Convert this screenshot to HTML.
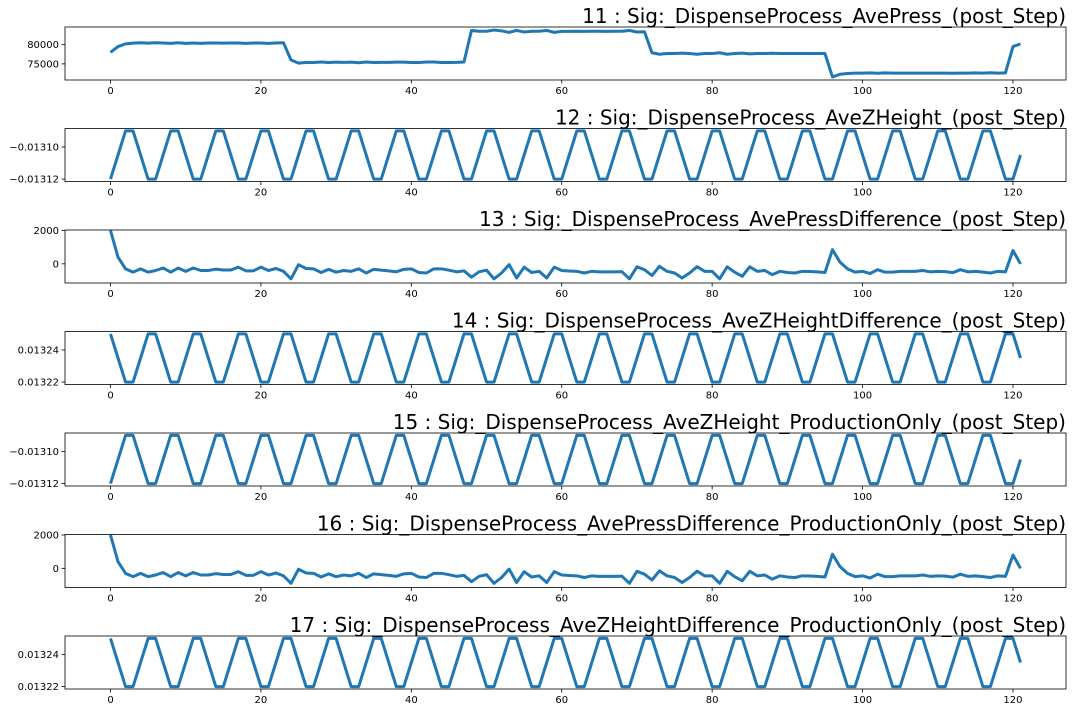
<!DOCTYPE html>
<html><head><meta charset="utf-8"><style>
html,body{margin:0;padding:0;background:#fff;}
svg{display:block;font-family:"DejaVu Sans","Liberation Sans",sans-serif;}
</style></head><body>
<svg id="chart" width="1072" height="712" viewBox="0 0 1072 712"></svg>
<script>
const xTicks = [0, 20, 40, 60, 80, 100, 120];
const titles = [
 "11 : Sig:_DispenseProcess_AvePress_(post_Step)",
 "12 : Sig:_DispenseProcess_AveZHeight_(post_Step)",
 "13 : Sig:_DispenseProcess_AvePressDifference_(post_Step)",
 "14 : Sig:_DispenseProcess_AveZHeightDifference_(post_Step)",
 "15 : Sig:_DispenseProcess_AveZHeight_ProductionOnly_(post_Step)",
 "16 : Sig:_DispenseProcess_AvePressDifference_ProductionOnly_(post_Step)",
 "17 : Sig:_DispenseProcess_AveZHeightDifference_ProductionOnly_(post_Step)"
];
const avePress = [78000,79500,80200,80400,80500,80400,80500,80450,80350,80500,80350,80450,80350,80450,80450,80400,80450,80450,80350,80450,80450,80350,80450,80500,
76000,75200,75350,75350,75500,75350,75450,75400,75450,75300,75500,75350,75400,75400,75450,75450,75350,75350,75500,75500,75350,75350,75400,75500,
83700,83500,83500,83800,83600,83200,83700,83300,83500,83500,83700,83200,83450,83450,83500,83450,83500,83500,83450,83500,83500,83700,83300,83350,
77900,77500,77700,77700,77800,77700,77500,77700,77700,77900,77500,77700,77800,77600,77700,77700,77750,77700,77700,77700,77700,77700,77700,77700,
71600,72300,72500,72600,72600,72650,72550,72650,72600,72600,72600,72600,72600,72600,72600,72600,72550,72600,72600,72650,72600,72700,72600,72650,79500,80200];
const zHeight = [-0.01312,-0.013105,-0.01309,-0.01309,-0.013105,-0.01312,-0.01312,-0.013105,-0.01309,-0.01309,-0.013105,-0.01312,-0.01312,-0.013105,-0.01309,-0.01309,-0.013105,-0.01312,-0.01312,-0.013105,-0.01309,-0.01309,-0.013105,-0.01312,-0.01312,-0.013105,-0.01309,-0.01309,-0.013105,-0.01312,-0.01312,-0.013105,-0.01309,-0.01309,-0.013105,-0.01312,-0.01312,-0.013105,-0.01309,-0.01309,-0.013105,-0.01312,-0.01312,-0.013105,-0.01309,-0.01309,-0.013105,-0.01312,-0.01312,-0.013105,-0.01309,-0.01309,-0.013105,-0.01312,-0.01312,-0.013105,-0.01309,-0.01309,-0.013105,-0.01312,-0.01312,-0.013105,-0.01309,-0.01309,-0.013105,-0.01312,-0.01312,-0.013105,-0.01309,-0.01309,-0.013105,-0.01312,-0.01312,-0.013105,-0.01309,-0.01309,-0.013105,-0.01312,-0.01312,-0.013105,-0.01309,-0.01309,-0.013105,-0.01312,-0.01312,-0.013105,-0.01309,-0.01309,-0.013105,-0.01312,-0.01312,-0.013105,-0.01309,-0.01309,-0.013105,-0.01312,-0.01312,-0.013105,-0.01309,-0.01309,-0.013105,-0.01312,-0.01312,-0.013105,-0.01309,-0.01309,-0.013105,-0.01312,-0.01312,-0.013105,-0.01309,-0.01309,-0.013105,-0.01312,-0.01312,-0.013105,-0.01309,-0.01309,-0.013105,-0.01312,-0.01312,-0.013105];
const pressDiff = [2000,400,-300,-500,-300,-500,-400,-250,-500,-250,-450,-250,-400,-400,-320,-370,-370,-200,-420,-420,-200,-400,-280,-450,-900,-50,-280,-300,-520,-330,-500,-400,-450,-300,-550,-330,-380,-420,-480,-330,-300,-520,-550,-300,-300,-380,-480,-420,-800,-480,-380,-900,-550,-50,-850,-200,-520,-450,-850,-200,-400,-430,-450,-550,-450,-480,-480,-480,-470,-900,-180,-350,-700,-150,-450,-550,-850,-550,-170,-450,-450,-900,-180,-500,-750,-180,-450,-400,-650,-450,-520,-550,-450,-460,-480,-520,850,100,-300,-500,-450,-580,-350,-500,-500,-450,-450,-450,-400,-480,-450,-470,-530,-350,-480,-450,-500,-550,-450,-480,800,0];
const zDiff = [0.01325,0.013235,0.01322,0.01322,0.013235,0.01325,0.01325,0.013235,0.01322,0.01322,0.013235,0.01325,0.01325,0.013235,0.01322,0.01322,0.013235,0.01325,0.01325,0.013235,0.01322,0.01322,0.013235,0.01325,0.01325,0.013235,0.01322,0.01322,0.013235,0.01325,0.01325,0.013235,0.01322,0.01322,0.013235,0.01325,0.01325,0.013235,0.01322,0.01322,0.013235,0.01325,0.01325,0.013235,0.01322,0.01322,0.013235,0.01325,0.01325,0.013235,0.01322,0.01322,0.013235,0.01325,0.01325,0.013235,0.01322,0.01322,0.013235,0.01325,0.01325,0.013235,0.01322,0.01322,0.013235,0.01325,0.01325,0.013235,0.01322,0.01322,0.013235,0.01325,0.01325,0.013235,0.01322,0.01322,0.013235,0.01325,0.01325,0.013235,0.01322,0.01322,0.013235,0.01325,0.01325,0.013235,0.01322,0.01322,0.013235,0.01325,0.01325,0.013235,0.01322,0.01322,0.013235,0.01325,0.01325,0.013235,0.01322,0.01322,0.013235,0.01325,0.01325,0.013235,0.01322,0.01322,0.013235,0.01325,0.01325,0.013235,0.01322,0.01322,0.013235,0.01325,0.01325,0.013235,0.01322,0.01322,0.013235,0.01325,0.01325,0.013235];
const pressTicks = [75000, 80000];
const pressTickLabels = ["75000", "80000"];
const zTicks = [-0.01312, -0.01310];
const zTickLabels = ["\u22120.01312", "\u22120.01310"];
const diffTicks = [0, 2000];
const diffTickLabels = ["0", "2000"];
const zdTicks = [0.01322, 0.01324];
const zdTickLabels = ["0.01322", "0.01324"];

const panels = [
 {d: avePress, dom: [70800, 84600], t: pressTicks, tl: pressTickLabels},
 {d: zHeight, dom: [-0.0131215, -0.0130885], t: zTicks, tl: zTickLabels},
 {d: pressDiff, dom: [-1150, 2030], t: diffTicks, tl: diffTickLabels},
 {d: zDiff, dom: [0.0132185, 0.0132515], t: zdTicks, tl: zdTickLabels},
 {d: zHeight, dom: [-0.0131215, -0.0130885], t: zTicks, tl: zTickLabels},
 {d: pressDiff, dom: [-1150, 2030], t: diffTicks, tl: diffTickLabels},
 {d: zDiff, dom: [0.0132185, 0.0132515], t: zdTicks, tl: zdTickLabels}
];
const NS = "http://www.w3.org/2000/svg";
const svg = document.getElementById("chart");
const L = 65, R = 1066, H = 53;
const xMin = -6.05, xMax = 127.05;
function xs(v){ return L + (v - xMin) / (xMax - xMin) * (R - L); }
function mk(tag, attrs, parent){ const e = document.createElementNS(NS, tag); for (const k in attrs) e.setAttribute(k, attrs[k]); (parent||svg).appendChild(e); return e; }
panels.forEach((p, i) => {
  const top = 27 + i * 101.5, bot = top + H;
  const ys = v => bot - (v - p.dom[0]) / (p.dom[1] - p.dom[0]) * H;
  const g = mk("g", {});
  
  
  const clipId = "c" + i;
  const cp = mk("clipPath", {id: clipId}, g);
  mk("rect", {x: L, y: top, width: R - L, height: H}, cp);
  const pts = p.d.map((v, k) => xs(k).toFixed(2) + "," + ys(v).toFixed(2)).join(" ");
  const line = mk("polyline", {points: pts, fill: "none", stroke: "#1f77b4", "stroke-width": 3, "stroke-linejoin": "round", "clip-path": "url(#" + clipId + ")"}, g);
  
  
  const frame = mk("rect", {x: L, y: top, width: R - L, height: H, fill: "none", stroke: "#000", "stroke-width": 0.8}, g);
  
  
  xTicks.forEach(t => {
    const x = xs(t);
    mk("line", {x1: x, x2: x, y1: bot, y2: bot + 3.5, stroke: "#000", "stroke-width": 0.8}, g);
    const tx = mk("text", {x: x, y: bot + 14, "font-size": 10, "text-anchor": "middle", fill: "#000"}, g);
    tx.textContent = t;
    
    
  });
  p.t.forEach((t, k) => {
    const y = ys(t);
    mk("line", {x1: L - 3.5, x2: L, y1: y, y2: y, stroke: "#000", "stroke-width": 0.8}, g);
    const ty = mk("text", {x: L - 6, y: y + 3.5, "font-size": 10, "text-anchor": "end", fill: "#000"}, g);
    ty.textContent = p.tl[k];
    
    
  });
  const title = mk("text", {x: R, y: top - 4, "font-size": 20, "text-anchor": "end", fill: "#000"}, g);
  title.textContent = titles[i];
  
  
});
</script>
</body></html>
